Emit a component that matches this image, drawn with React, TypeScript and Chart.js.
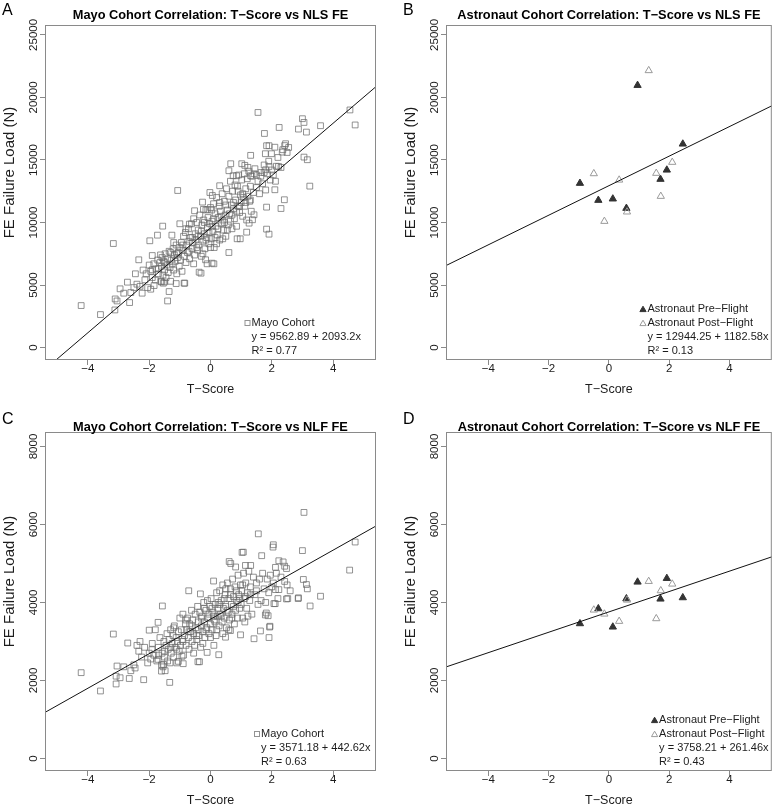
import React, { useEffect, useRef } from "react";
import { Chart, registerables } from "chart.js";

Chart.register(...registerables);

const FAMILY = '"Liberation Sans", Arial, Helvetica, sans-serif';
const MINUS = "\u2212";

// ---------------- DATA ----------------
const xTicks = [-4, -2, 0, 2, 4];
const nlsTicks = [0, 5000, 10000, 15000, 20000, 25000];
const nlfTicks = [0, 2000, 4000, 6000, 8000];
const xLimits = [-5.4, 5.4];
const nlsLimits = [-992, 25792];
const nlfLimits = [-322, 8372];

// Mayo cohort: [T-score, NLS FE failure load]
const mayoNls: [number, number][] = [
  [1.55, 18800], [4.55, 19000], [4.72, 17800], [3.0, 18300], [3.05, 18000], [2.87, 17470], [3.13, 17230], [3.59, 17740],
  [2.24, 17600], [1.76, 17120], [1.83, 16140], [1.91, 16140], [2.45, 16300], [2.42, 16150], [2.1, 16020], [1.79, 15500],
  [1.99, 15500], [2.34, 15630], [2.36, 15820], [1.31, 15370], [3.05, 15230], [3.16, 15020], [0.66, 14700], [1.02, 14700],
  [1.12, 14570], [1.22, 14410], [1.8, 14220], [1.91, 14480], [2.22, 14480], [0.6, 14140], [0.74, 13740], [0.85, 13740],
  [1.31, 13740], [1.42, 13900], [1.64, 13700], [1.75, 14000], [3.24, 12910], [2.1, 12620], [2.41, 11820], [2.3, 11120],
  [1.83, 11230], [1.83, 9470], [1.91, 9070], [1.18, 9230], [0.97, 8700], [0.87, 8700], [1.42, 10620], [1.26, 9950],
  [1.37, 10220], [0.05, 6750], [-0.16, 7020], [0.11, 6700], [-0.11, 6700], [-0.37, 6030], [-0.31, 5950],
  [-1.07, 12560], [-0.02, 12400], [0.06, 12160], [0.3, 12940], [-0.26, 11630], [-0.52, 10940], [-0.23, 11050],
  [-0.09, 11050], [0.04, 11000], [-1.56, 9710], [-1.0, 9900], [-0.69, 9870], [-1.73, 8990], [-1.26, 8990], [-1.98, 8540],
  [-3.17, 8320], [-2.34, 7020], [-1.9, 7360], [-1.63, 7410], [-2.71, 5230], [-2.95, 4700], [-2.83, 4350], [-2.23, 4350],
  [-2.64, 3600], [-3.11, 3890], [-3.05, 3730], [-3.12, 3010], [-3.59, 2640], [-4.22, 3360], [-1.4, 3730], [-1.35, 4480],
  [-1.84, 4960], [-1.6, 5250], [-1.5, 5250], [-0.84, 5150], [-1.9, 6220], [-2.4, 5070], [-2.14, 5420], [-1.95, 4670],
  [-1.54, 5150], [-1.12, 5120], [-0.86, 5150],
  [-1.95, 6100], [-1.9, 5600], [-1.85, 6700], [-1.8, 5400], [-1.78, 6300], [-1.72, 7000], [-1.7, 5900], [-1.65, 6800],
  [-1.62, 5300], [-1.6, 6500], [-1.58, 7200], [-1.55, 5800], [-1.52, 6900], [-1.5, 6200], [-1.48, 7500], [-1.45, 5600],
  [-1.42, 6600], [-1.4, 7100], [-1.38, 6000], [-1.35, 7700], [-1.32, 6400], [-1.3, 5300], [-1.28, 7000], [-1.25, 6700],
  [-1.22, 7900], [-1.2, 6200], [-1.18, 7400], [-1.15, 6900], [-1.12, 8200], [-1.1, 5900], [-1.08, 7200], [-1.05, 7600],
  [-1.02, 6500], [-1.0, 8000],
  [-0.98, 7000], [-0.95, 8400], [-0.93, 6100], [-0.9, 7800], [-0.88, 8900], [-0.85, 7300], [-0.82, 9200], [-0.8, 6800],
  [-0.78, 8200], [-0.75, 7600], [-0.72, 9500], [-0.7, 8500], [-0.68, 7100], [-0.65, 8800], [-0.62, 9900], [-0.6, 7900],
  [-0.58, 8400], [-0.55, 10300], [-0.52, 7400], [-0.5, 9100], [-0.48, 8600], [-0.45, 10000], [-0.42, 7800], [-0.4, 9400],
  [-0.38, 8200], [-0.35, 10600], [-0.32, 8900], [-0.3, 7300], [-0.28, 9800], [-0.25, 8500], [-0.22, 10200], [-0.2, 9100],
  [-0.18, 7900], [-0.15, 11000], [-0.12, 8800], [-0.1, 9600], [-0.08, 10400], [-0.05, 8300], [-0.03, 9900], [0.0, 11200],
  [0.02, 8700], [0.05, 10100], [0.08, 9300], [0.1, 11500], [0.12, 8000], [0.15, 10700], [0.18, 9700], [0.2, 12000],
  [0.22, 9000], [0.25, 10400], [0.28, 11300], [0.3, 8600], [0.32, 10900], [0.35, 9900], [0.38, 12300], [0.4, 10200],
  [0.42, 9400], [0.45, 11700], [0.48, 10600], [0.5, 8900], [0.52, 12700], [0.55, 11000], [0.58, 9800], [0.6, 12100],
  [0.62, 10700], [0.65, 13300], [0.68, 11400], [0.7, 9500], [0.72, 12500], [0.75, 11100], [0.78, 10300], [0.8, 13000],
  [0.82, 11800], [0.85, 9700], [0.88, 12900], [0.9, 11300], [0.92, 13800], [0.95, 10800], [0.98, 12200], [1.0, 11600],
  [1.02, 13400], [1.05, 10500], [1.08, 12000], [1.1, 13900], [1.12, 11300], [1.15, 12700], [1.18, 10200], [1.2, 13500],
  [1.22, 12100], [1.25, 14100], [1.28, 11700], [1.3, 12900], [1.33, 10900], [1.35, 13700], [1.4, 12400], [1.45, 14300],
  [1.5, 12800], [1.55, 13300], [1.6, 12300], [1.65, 14000], [1.7, 13100], [1.75, 14600], [1.8, 12600], [1.85, 13900],
  [1.9, 14900], [1.95, 13400], [2.0, 14200],
  [-2.5, 4800], [-2.45, 5900], [-2.3, 4900], [-2.2, 6200], [-2.1, 5900], [-2.05, 4800], [-2.0, 6600], [-2.6, 4400],
  [2.05, 13800], [2.15, 14500], [2.2, 15200], [2.3, 14400], [2.5, 15600], [2.12, 13300], [2.55, 16000],
  [-0.6, 8800], [-0.45, 8000], [-0.3, 9300], [-0.15, 8600], [-0.05, 9200], [0.05, 9700], [0.15, 8800], [0.25, 9500],
  [0.35, 10500], [0.45, 10000], [0.55, 9400], [0.65, 10100], [0.75, 11600], [0.85, 10900], [0.95, 11300], [1.05, 12300],
  [1.15, 11600], [0.1, 10300], [-0.2, 10000], [-0.4, 8900], [-0.7, 7700], [-0.9, 8200], [-1.1, 7500], [-1.3, 7600],
  [-1.5, 6800], [-1.7, 6300], [0.3, 11600], [0.5, 11400], [0.7, 10600], [0.9, 12500], [1.3, 11800], [1.5, 13800],
  [-0.25, 7500], [0.0, 8000], [0.2, 8300], [0.4, 8700], [-0.8, 9500], [-1.2, 8400], [-0.55, 6700], [0.6, 7600],
];

// Mayo cohort: [T-score, NLF FE failure load]
const mayoNlf: [number, number][] = [
  [3.05, 6310], [1.56, 5760], [2.05, 5480], [1.07, 5290], [1.67, 5200], [3.0, 5330], [4.72, 5550], [4.54, 4830],
  [2.23, 5070], [2.37, 5040], [2.42, 4930], [2.48, 4870], [0.61, 5050], [0.66, 5000], [0.82, 4910], [1.31, 4950],
  [1.14, 4950], [3.03, 4590], [3.13, 4460], [3.16, 4350], [2.42, 4540], [2.12, 4330], [2.23, 4330], [2.52, 4100],
  [2.86, 4100], [3.59, 4160], [3.25, 3910], [2.07, 3970], [1.82, 3730], [1.88, 3660], [1.94, 3390], [1.63, 3270],
  [1.91, 3100], [1.42, 3070], [0.98, 3170], [0.27, 2660], [-0.11, 2720], [-0.36, 2480], [-0.41, 2480], [-0.71, 4300],
  [-0.33, 4220], [-1.57, 3910], [-1.71, 3490], [-2.0, 3290], [-3.17, 3190], [-2.7, 2960], [-2.34, 2750], [-1.91, 2790],
  [-1.33, 1950], [-2.18, 2020], [-2.65, 2050], [-2.83, 2350], [-3.05, 2370], [-3.08, 2110], [-3.08, 1910], [-2.95, 2070],
  [-4.22, 2200], [-3.59, 1730], [-2.46, 2320], [-1.71, 2540], [-1.6, 2240], [-1.53, 2410], [-1.05, 2490], [-0.93, 2620],
  [-0.89, 2430], [2.04, 5420], [1.03, 5285], [0.11, 2900], [0.49, 3110], [0.65, 3280], [1.79, 3680], [2.11, 3970],
  [2.48, 4090], [2.87, 4120], [1.93, 3370],
  [-1.95, 2550], [-1.9, 2950], [-1.85, 2650], [-1.8, 3300], [-1.75, 2500], [-1.7, 2850], [-1.65, 3100], [-1.6, 2400],
  [-1.58, 2700], [-1.55, 2350], [-1.52, 3000], [-1.5, 2600], [-1.48, 2250], [-1.45, 2900], [-1.42, 3200], [-1.4, 2500],
  [-1.38, 2800], [-1.35, 3050], [-1.32, 2450], [-1.3, 3300], [-1.28, 2700], [-1.25, 2950], [-1.22, 3150], [-1.2, 2600],
  [-1.18, 3400], [-1.15, 2850], [-1.12, 3100], [-1.1, 2450], [-1.08, 3000], [-1.05, 3250], [-1.02, 2750], [-1.0, 3600],
  [-0.98, 2900], [-0.95, 3300], [-0.92, 3050], [-0.9, 3700], [-0.88, 2650], [-0.85, 3150], [-0.82, 3450], [-0.8, 2900],
  [-0.78, 3300], [-0.75, 3600], [-0.72, 3100], [-0.7, 2800], [-0.68, 3450], [-0.65, 3250], [-0.62, 3800], [-0.6, 3000],
  [-0.58, 3550], [-0.55, 3200], [-0.52, 2900], [-0.5, 3700], [-0.48, 3350], [-0.45, 3050], [-0.42, 3900], [-0.4, 3500],
  [-0.38, 3150], [-0.35, 3750], [-0.32, 2850], [-0.3, 3400], [-0.28, 3650], [-0.25, 3250], [-0.22, 4000], [-0.2, 3500],
  [-0.18, 3100], [-0.15, 3800], [-0.12, 3350], [-0.1, 4050], [-0.08, 3600], [-0.05, 3200], [-0.02, 3900], [0.0, 3450],
  [0.02, 4100], [0.05, 3300], [0.08, 3750], [0.1, 4550], [0.12, 3550], [0.15, 3950], [0.18, 3150], [0.2, 4250],
  [0.22, 3650], [0.25, 3850], [0.28, 3400], [0.3, 4300], [0.32, 3700], [0.35, 4050], [0.38, 3500], [0.4, 4450],
  [0.42, 3850], [0.45, 3600], [0.48, 4200], [0.5, 3900], [0.52, 3350], [0.55, 4500], [0.58, 3750], [0.6, 4100],
  [0.62, 3550], [0.65, 4350], [0.68, 3950], [0.7, 3700], [0.72, 4600], [0.75, 4150], [0.78, 3450], [0.8, 4400],
  [0.82, 3800], [0.85, 4050], [0.88, 3600], [0.9, 4700], [0.92, 4200], [0.95, 3850], [0.98, 4450], [1.0, 3950],
  [1.02, 4300], [1.05, 3600], [1.08, 4750], [1.1, 4100], [1.12, 3500], [1.15, 4500], [1.18, 3850], [1.2, 4250],
  [1.22, 3650], [1.25, 4800], [1.28, 4050], [1.3, 4400], [1.35, 3700], [1.4, 4650], [1.45, 4200], [1.5, 4500],
  [1.55, 3950], [1.6, 4600], [1.65, 4050], [1.7, 4750], [1.75, 4350], [1.8, 4000], [1.85, 4600], [1.9, 4250],
  [1.95, 4700], [2.0, 4400],
  [-2.5, 2400], [-2.4, 2900], [-2.25, 2600], [-2.15, 2850], [-2.05, 2450], [-2.0, 2700], [-2.6, 2250], [-2.3, 3000],
  [2.05, 4500], [2.15, 4750], [2.2, 4100], [2.3, 4650], [2.5, 4450], [2.12, 4900], [2.6, 4300],
  [-0.6, 3400], [-0.45, 3150], [-0.3, 3600], [-0.15, 3300], [-0.05, 3700], [0.05, 3850], [0.15, 3500], [0.25, 4000],
  [0.35, 3650], [0.45, 4100], [0.55, 3800], [0.65, 4200], [0.75, 3900], [0.85, 4300], [0.95, 4100], [1.05, 4450],
  [1.15, 4150], [0.1, 3650], [-0.2, 3850], [-0.4, 3300], [-0.7, 3250], [-0.9, 3000], [-1.1, 2800], [-1.3, 2850],
  [-1.5, 2750], [-1.7, 2650], [0.3, 3950], [0.5, 4350], [0.7, 3600], [0.9, 4000], [1.3, 4200], [1.5, 4300],
  [-0.25, 2950], [0.0, 3100], [0.2, 3300], [0.4, 3200], [-0.8, 3550], [-1.2, 3350], [-0.55, 2700], [0.6, 3300],
];

// Astronaut cohort T-scores
const astroPreT = [-0.96, -0.35, 0.13, 0.58, 0.95, 1.71, 1.92, 2.45];
const astroPostT = [1.32, -0.5, 0.34, -0.15, 0.6, 1.57, 2.1, 1.72];
// NLS FE failure load
const astroPreNls = [13140, 11780, 11890, 11140, 20970, 13460, 14200, 16280];
const astroPostNls = [22150, 13910, 13400, 10100, 10850, 13940, 14820, 12100];
// NLF FE failure load
const astroPreNlf = [3458, 3842, 3372, 4098, 4525, 4090, 4619, 4124];
const astroPostNlf = [4542, 3808, 3518, 3705, 4064, 3586, 4474, 4303];

// regression fits [intercept, slope]
const fitMayoNls = [9562.89, 2093.2];
const fitAstroNls = [12944.25, 1182.58];
const fitMayoNlf = [3571.18, 442.62];
const fitAstroNlf = [3758.21, 261.46];

const panelLetters = ["A", "B", "C", "D"];
const panelTitles = [
  `Mayo Cohort Correlation: T${MINUS}Score vs NLS FE`,
  `Astronaut Cohort Correlation: T${MINUS}Score vs NLS FE`,
  `Mayo Cohort Correlation: T${MINUS}Score vs NLF FE`,
  `Astronaut Cohort Correlation: T${MINUS}Score vs NLF FE`,
];
const xAxisTitle = `T${MINUS}Score`;
const yAxisTitle = "FE Failure Load (N)";
const mayoLabel = "Mayo Cohort";
const preLabel = `Astronaut Pre${MINUS}Flight`;
const postLabel = `Astronaut Post${MINUS}Flight`;

// ---------------- STYLE ----------------
const BOX = "#8a8a8a";
const TEXT = "#1c1c1c";
const SQUARE_COL = "rgba(105,105,105,0.72)";
const PRE_COL = "#333333";
const POST_COL = "#9a9a9a";

type Legend = { kind: "square" | "pre" | "post" | null; text: string };

type Spec = {
  idx: number;
  cx: number; cy: number; W: number; H: number;
  L: number; R: number; T: number; B: number;
  letterX: number; letterY: number; titleY: number;
  legendOffset: number;
  yTicks: number[]; yLimits: number[];
  datasets: any[];
  fit: number[];
  legend: Legend[];
};

const fmt = (v: number) => (v < 0 ? MINUS + Math.abs(v) : String(v));

function lineData(fit: number[]) {
  return [xLimits[0], xLimits[1]].map((x) => ({ x, y: fit[0] + fit[1] * x }));
}

function mayoDataset(pts: [number, number][]) {
  return {
    type: "scatter",
    data: pts.map(([x, y]) => ({ x, y })),
    pointStyle: "rect",
    pointRadius: 4.1,
    borderWidth: 1,
    borderColor: SQUARE_COL,
    backgroundColor: "rgba(0,0,0,0)",
  };
}

function astroDatasets(pre: number[], post: number[]) {
  return [
    {
      type: "scatter",
      data: astroPostT.map((x, i) => ({ x, y: post[i] })),
      pointStyle: "triangle",
      pointRadius: 4.2,
      borderWidth: 1,
      borderColor: POST_COL,
      backgroundColor: "rgba(0,0,0,0)",
    },
    {
      type: "scatter",
      data: astroPreT.map((x, i) => ({ x, y: pre[i] })),
      pointStyle: "triangle",
      pointRadius: 4.2,
      borderWidth: 1,
      borderColor: PRE_COL,
      backgroundColor: PRE_COL,
    },
  ];
}

const specs: Spec[] = [
  {
    idx: 0, cx: 0, cy: 0, W: 388, H: 400, L: 45, R: 376, T: 25, B: 360,
    letterX: 2, letterY: 15, titleY: 15.5, legendOffset: -124.5,
    yTicks: nlsTicks, yLimits: nlsLimits,
    datasets: [mayoDataset(mayoNls)], fit: fitMayoNls,
    legend: [
      { kind: "square", text: mayoLabel },
      { kind: null, text: `y = ${fitMayoNls[0]} + ${fitMayoNls[1]}x` },
      { kind: null, text: "R\u00b2 = 0.77" },
    ],
  },
  {
    idx: 1, cx: 388, cy: 0, W: 389, H: 400, L: 58, R: 388, T: 25, B: 360,
    letterX: 15, letterY: 15, titleY: 15.5, legendOffset: -124.3,
    yTicks: nlsTicks, yLimits: nlsLimits,
    datasets: astroDatasets(astroPreNls, astroPostNls), fit: fitAstroNls,
    legend: [
      { kind: "pre", text: preLabel },
      { kind: "post", text: postLabel },
      { kind: null, text: `y = ${fitAstroNls[0]} + ${fitAstroNls[1]}x` },
      { kind: null, text: "R\u00b2 = 0.13" },
    ],
  },
  {
    idx: 2, cx: 0, cy: 400, W: 388, H: 407, L: 45, R: 376, T: 32, B: 371,
    letterX: 2, letterY: 24, titleY: 27, legendOffset: -115,
    yTicks: nlfTicks, yLimits: nlfLimits,
    datasets: [mayoDataset(mayoNlf)], fit: fitMayoNlf,
    legend: [
      { kind: "square", text: mayoLabel },
      { kind: null, text: `y = ${fitMayoNlf[0]} + ${fitMayoNlf[1]}x` },
      { kind: null, text: "R\u00b2 = 0.63" },
    ],
  },
  {
    idx: 3, cx: 388, cy: 400, W: 389, H: 407, L: 58, R: 388, T: 32, B: 371,
    letterX: 15, letterY: 24, titleY: 27, legendOffset: -112.7,
    yTicks: nlfTicks, yLimits: nlfLimits,
    datasets: astroDatasets(astroPreNlf, astroPostNlf), fit: fitAstroNlf,
    legend: [
      { kind: "pre", text: preLabel },
      { kind: "post", text: postLabel },
      { kind: null, text: `y = ${fitAstroNlf[0]} + ${fitAstroNlf[1]}x` },
      { kind: null, text: "R\u00b2 = 0.43" },
    ],
  },
];

function drawTriangle(ctx: CanvasRenderingContext2D, x: number, y: number, r: number, fill: string | null, stroke: string) {
  ctx.beginPath();
  for (let k = 0; k < 3; k++) {
    const a = (k * 2 * Math.PI) / 3;
    const px = x + Math.sin(a) * r;
    const py = y - Math.cos(a) * r;
    if (k === 0) ctx.moveTo(px, py);
    else ctx.lineTo(px, py);
  }
  ctx.closePath();
  if (fill) {
    ctx.fillStyle = fill;
    ctx.fill();
  }
  ctx.strokeStyle = stroke;
  ctx.lineWidth = 1;
  ctx.stroke();
}

function makeDecor(spec: Spec) {
  return {
    id: "rdecor" + spec.idx,
    afterDraw(chart: any) {
      const ctx: CanvasRenderingContext2D = chart.ctx;
      const { left, right, top, bottom } = chart.chartArea;
      const xs = chart.scales.x;
      const ys = chart.scales.y;
      ctx.save();
      // box
      ctx.strokeStyle = BOX;
      ctx.lineWidth = 1;
      ctx.strokeRect(left + 0.5, top + 0.5, right - left - 1, bottom - top - 1);

      ctx.fillStyle = TEXT;
      // x tick labels
      ctx.font = `11.5px ${FAMILY}`;
      ctx.textAlign = "center";
      ctx.textBaseline = "middle";
      for (const v of xTicks) ctx.fillText(fmt(v), xs.getPixelForValue(v), bottom + 9);
      // y tick labels (rotated)
      for (const v of spec.yTicks) {
        ctx.save();
        ctx.translate(left - 8, ys.getPixelForValue(v));
        ctx.rotate(-Math.PI / 2);
        ctx.textAlign = "center";
        ctx.textBaseline = "alphabetic";
        ctx.fillText(fmt(v), 0, 0);
        ctx.restore();
      }
      // axis titles
      ctx.font = `12.5px ${FAMILY}`;
      ctx.textAlign = "center";
      ctx.textBaseline = "middle";
      ctx.fillText(xAxisTitle, (left + right) / 2, bottom + 30);
      ctx.save();
      ctx.translate(left - 35, (top + bottom) / 2 - 20);
      ctx.rotate(-Math.PI / 2);
      ctx.font = `15px ${FAMILY}`;
      ctx.textAlign = "center";
      ctx.textBaseline = "middle";
      ctx.fillText(yAxisTitle, 0, 0);
      ctx.restore();
      // title
      ctx.fillStyle = "#000";
      ctx.font = `bold 12.8px ${FAMILY}`;
      ctx.textAlign = "center";
      ctx.textBaseline = "middle";
      ctx.fillText(panelTitles[spec.idx], (left + right) / 2, spec.titleY);
      // panel letter
      ctx.font = `16px ${FAMILY}`;
      ctx.textAlign = "left";
      ctx.textBaseline = "alphabetic";
      ctx.fillText(panelLetters[spec.idx], spec.letterX, spec.letterY);
      // legend
      ctx.font = `11px ${FAMILY}`;
      ctx.textBaseline = "middle";
      ctx.fillStyle = TEXT;
      const n = spec.legend.length;
      const tx = right + spec.legendOffset;
      spec.legend.forEach((item, i) => {
        const y = bottom - 9 - 14 * (n - 1 - i);
        ctx.fillStyle = TEXT;
        ctx.fillText(item.text, tx, y);
        const mx = tx - 4;
        if (item.kind === "square") {
          ctx.strokeStyle = SQUARE_COL;
          ctx.lineWidth = 1;
          ctx.strokeRect(mx - 2.5, y - 2.5, 5, 5);
        } else if (item.kind === "pre") {
          drawTriangle(ctx, mx - 0.5, y + 0.8, 3.6, PRE_COL, PRE_COL);
        } else if (item.kind === "post") {
          drawTriangle(ctx, mx - 0.5, y + 0.8, 3.6, null, POST_COL);
        }
      });
      ctx.restore();
    },
  };
}

function Panel({ spec }: { spec: Spec }) {
  const ref = useRef<HTMLCanvasElement>(null);
  useEffect(() => {
    if (!ref.current) return;
    const gridOpts = {
      display: true,
      drawOnChartArea: false,
      drawTicks: true,
      tickLength: 5,
      color: BOX,
      lineWidth: 1,
    };
    const chart = new Chart(ref.current, {
      type: "scatter",
      data: {
        datasets: [
          {
            type: "line",
            data: lineData(spec.fit),
            borderColor: "#111",
            borderWidth: 1,
            pointRadius: 0,
            fill: false,
            tension: 0,
          } as any,
          ...spec.datasets,
        ],
      },
      options: {
        responsive: false,
        animation: false,
        events: [],
        layout: { padding: { left: 0, top: spec.T, right: spec.W - spec.R, bottom: 0 } },
        plugins: {
          legend: { display: false },
          tooltip: { enabled: false },
          title: { display: false },
        },
        scales: {
          x: {
            type: "linear",
            min: xLimits[0],
            max: xLimits[1],
            afterBuildTicks: (s: any) => {
              s.ticks = xTicks.map((v) => ({ value: v }));
            },
            afterFit: (s: any) => {
              s.height = spec.H - spec.B;
            },
            ticks: { display: false },
            grid: gridOpts,
            border: { display: false },
          },
          y: {
            type: "linear",
            min: spec.yLimits[0],
            max: spec.yLimits[1],
            afterBuildTicks: (s: any) => {
              s.ticks = spec.yTicks.map((v) => ({ value: v }));
            },
            afterFit: (s: any) => {
              s.width = spec.L;
            },
            ticks: { display: false },
            grid: gridOpts,
            border: { display: false },
          },
        },
      } as any,
      plugins: [makeDecor(spec)],
    } as any);
    return () => chart.destroy();
  }, [spec]);
  return (
    <canvas
      ref={ref}
      width={spec.W}
      height={spec.H}
      style={{ position: "absolute", left: spec.cx, top: spec.cy, width: spec.W, height: spec.H }}
    />
  );
}

export default function App() {
  return (
    <div style={{ position: "absolute", left: 0, top: 0, width: 777, height: 807, background: "#fff", overflow: "hidden" }}>
      {specs.map((s) => (
        <Panel key={s.idx} spec={s} />
      ))}
    </div>
  );
}
